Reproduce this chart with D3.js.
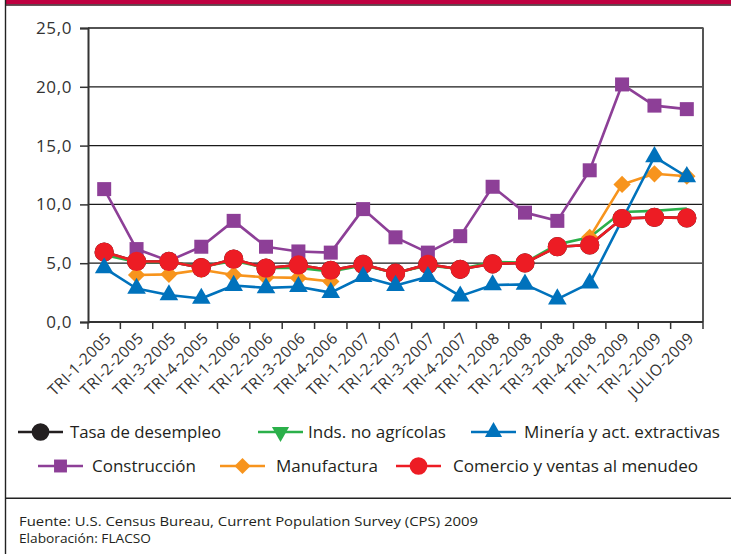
<!DOCTYPE html>
<html>
<head>
<meta charset="utf-8">
<script src="https://cdn.jsdelivr.net/npm/d3@7"></script>
<style>
  html, body { margin: 0; padding: 0; background: #fff; }
  svg { display: block; font-family: "Open Sans", sans-serif; }
</style>
</head>
<body>
<svg id="chart" width="731" height="554"></svg>
<script>
const categories = ["TRI-1-2005","TRI-2-2005","TRI-3-2005","TRI-4-2005","TRI-1-2006","TRI-2-2006","TRI-3-2006","TRI-4-2006","TRI-1-2007","TRI-2-2007","TRI-3-2007","TRI-4-2007","TRI-1-2008","TRI-2-2008","TRI-3-2008","TRI-4-2008","TRI-1-2009","TRI-2-2009","JULIO-2009"];
const tasaDesempleo = [5.95, 5.15, 5.15, 4.62, 5.35, 4.58, 4.85, 4.4, 4.9, 4.15, 4.9, 4.48, 4.95, 5.02, 6.4, 6.55, 8.8, 8.9, 8.85];
const indsNoAgricolas = [5.7, 5.1, 5.1, 4.7, 5.2, 4.6, 4.6, 4.3, 4.8, 4.2, 4.8, 4.5, 5.1, 5.05, 6.6, 7.2, 9.35, 9.45, 9.65];
const mineria = [4.6, 2.85, 2.3, 2.0, 3.1, 2.9, 3.0, 2.5, 3.85, 3.1, 3.85, 2.2, 3.15, 3.2, 1.95, 3.3, null, 14.05, 12.35];
const construccion = [11.3, 6.2, 5.2, 6.4, 8.6, 6.4, 6.0, 5.9, 9.6, 7.2, 5.9, 7.3, 11.5, 9.3, 8.6, 12.9, 20.2, 18.4, 18.1];
const manufactura = [null, 4.0, 4.05, 4.45, 4.0, 3.8, 3.75, 3.45, null, null, null, null, null, null, null, 7.2, 11.7, 12.6, 12.4];
const comercio = [5.95, 5.15, 5.15, 4.62, 5.35, 4.58, 4.85, 4.4, 4.9, 4.15, 4.9, 4.48, 4.95, 5.02, 6.4, 6.55, 8.8, 8.9, 8.85];
const yTicks = [0, 5, 10, 15, 20, 25];
const legendRow1 = ["Tasa de desempleo", "Inds. no agrícolas", "Minería y act. extractivas"];
const legendRow2 = ["Construcción", "Manufactura", "Comercio y ventas al menudeo"];
const footLines = ["Fuente: U.S. Census Bureau, Current Population Survey (CPS) 2009", "Elaboración: FLACSO"];

const svg = d3.select("#chart");
const W = 731, H = 554;
const L = 88, R = 703, T = 28, B = 322;

// frame
svg.append("rect").attr("x", 6).attr("y", 0).attr("width", W - 6).attr("height", 4.3).attr("fill", "#BF0040");
svg.append("line").attr("x1", 6).attr("x2", W).attr("y1", 5).attr("y2", 5).attr("stroke", "#3a1a22").attr("stroke-width", 1.4);
svg.append("line").attr("x1", 5.5).attr("x2", 5.5).attr("y1", 0).attr("y2", H).attr("stroke", "#222").attr("stroke-width", 1.4);
svg.append("line").attr("x1", 5).attr("x2", W).attr("y1", 498.3).attr("y2", 498.3).attr("stroke", "#222").attr("stroke-width", 1.4);

const x = d3.scaleBand().domain(categories).range([L, R]).paddingInner(0).paddingOuter(0);
const cx = d => x(d) + x.bandwidth() / 2;
const y = d3.scaleLinear().domain([0, 25]).range([B, T]);

// gridlines
svg.append("g").selectAll("line").data(yTicks.filter(v => v > 0)).join("line")
  .attr("x1", L).attr("x2", R).attr("y1", d => y(d)).attr("y2", d => y(d))
  .attr("stroke", "#1a1a1a").attr("stroke-width", 1.3);

// right border
svg.append("line").attr("x1", R).attr("x2", R).attr("y1", T - 0.6).attr("y2", B)
  .attr("stroke", "#555").attr("stroke-width", 2);

// y axis
const yAxis = d3.axisLeft(y).tickValues(yTicks).tickSize(8).tickPadding(8)
  .tickFormat(d => d.toFixed(1).replace(".", ","));
const gy = svg.append("g").attr("transform", `translate(${L},0)`).call(yAxis);
gy.select(".domain").attr("stroke", "#333").attr("stroke-width", 2);
gy.selectAll(".tick line").attr("stroke", "#333").attr("stroke-width", 1.5);
gy.selectAll(".tick text").attr("fill", "#333").style("font-size", "17px")
  .style("letter-spacing", "0.6px").style("font-family", "Open Sans");

// x axis
const xAxis = d3.axisBottom(x).tickSize(0).tickFormat(d => d);
const gx = svg.append("g").attr("transform", `translate(0,${B})`).call(xAxis);
gx.select(".domain").attr("stroke", "#333").attr("stroke-width", 2).attr("d", `M${L},0H${R}`);
gx.selectAll(".tick text")
  .attr("text-anchor", "end")
  .attr("transform", "translate(8,17) rotate(-45)")
  .attr("x", 0).attr("y", 0).attr("dy", 0)
  .attr("fill", "#333").style("font-size", "15.5px").style("letter-spacing", "0.5px")
  .style("font-family", "Open Sans");
// boundary ticks
const boundaries = categories.map(c => x(c)).concat([x(categories[categories.length - 1]) + x.bandwidth()]);
svg.append("g").selectAll("line").data(boundaries).join("line")
  .attr("x1", d => d).attr("x2", d => d).attr("y1", B).attr("y2", B + 7)
  .attr("stroke", "#333").attr("stroke-width", 1.5);

// series drawing helpers
const lineGen = d3.line().defined(d => d.v != null).x(d => cx(d.c)).y(d => y(d.v));
function toPts(arr) { return arr.map((v, i) => ({ c: categories[i], v })); }
function drawLine(arr, color, connectGaps) {
  let pts = toPts(arr);
  if (connectGaps) pts = pts.filter(p => p.v != null);
  svg.append("path").datum(pts).attr("d", lineGen).attr("fill", "none")
    .attr("stroke", color).attr("stroke-width", 2.6).attr("stroke-linejoin", "round");
}
const shapes = {
  circle: { type: d3.symbolCircle, size: 290, rot: 0 },
  square: { type: d3.symbolSquare, size: 196, rot: 0 },
  diamond: { type: d3.symbolSquare, size: 150, rot: 45 },
  triUp: { type: d3.symbolTriangle, size: 150, rot: 0 },
  triDown: { type: d3.symbolTriangle, size: 150, rot: 180 }
};
function drawMarkers(arr, color, shape) {
  const s = shapes[shape];
  svg.append("g").selectAll("path").data(toPts(arr).filter(p => p.v != null)).join("path")
    .attr("d", d3.symbol().type(s.type).size(s.size))
    .attr("transform", d => `translate(${cx(d.c)},${y(d.v)}) rotate(${s.rot})`)
    .attr("fill", color);
}

const C = { black: "#231F20", green: "#2BB04A", blue: "#0072BC", purple: "#8D3F97", orange: "#F7941D", red: "#ED1C24" };

drawLine(tasaDesempleo, C.black, false);
drawMarkers(tasaDesempleo, C.black, "circle");
drawLine(indsNoAgricolas, C.green, false);
drawLine(construccion, C.purple, false);
drawMarkers(construccion, C.purple, "square");
drawLine(manufactura, C.orange, false);
drawMarkers(manufactura, C.orange, "diamond");
drawLine(mineria, C.blue, true);
drawLine(comercio, C.red, false);
drawMarkers(comercio, C.red, "circle");
drawMarkers(mineria, C.blue, "triUp");

// legend
const legendItems = [
  { label: legendRow1[0], color: C.black, shape: "circle", x0: 18, tx: 70, ty: 432, w: 151 },
  { label: legendRow1[1], color: C.green, shape: "triDown", x0: 258, tx: 308, ty: 432, w: 138 },
  { label: legendRow1[2], color: C.blue, shape: "triUp", x0: 471, tx: 524, ty: 432, w: 196 },
  { label: legendRow2[0], color: C.purple, shape: "square", x0: 38, tx: 92, ty: 466, w: 104 },
  { label: legendRow2[1], color: C.orange, shape: "diamond", x0: 220, tx: 276, ty: 466, w: 102 },
  { label: legendRow2[2], color: C.red, shape: "circle", x0: 396, tx: 453, ty: 466, w: 245 }
];
const lg = svg.append("g").selectAll("g").data(legendItems).join("g");
lg.append("line").attr("x1", d => d.x0).attr("x2", d => d.x0 + 45)
  .attr("y1", d => d.ty).attr("y2", d => d.ty).attr("stroke", d => d.color).attr("stroke-width", 2.6);
lg.append("path")
  .attr("d", d => d3.symbol().type(shapes[d.shape].type).size(shapes[d.shape].size * 0.85)())
  .attr("transform", d => `translate(${d.x0 + 22.5},${d.ty}) rotate(${shapes[d.shape].rot})`)
  .attr("fill", d => d.color);
lg.append("text").attr("x", d => d.tx).attr("y", d => d.ty + 6)
  .attr("textLength", d => d.w).attr("lengthAdjust", "spacingAndGlyphs")
  .style("font-size", "17px").attr("fill", "#231F20").text(d => d.label);

// footnote
svg.append("g").selectAll("text").data(footLines).join("text")
  .attr("x", 19).attr("y", (d, i) => 526 + i * 17)
  .attr("textLength", (d, i) => i === 0 ? 459 : 132).attr("lengthAdjust", "spacingAndGlyphs")
  .style("font-size", "13.5px").attr("fill", "#231F20").text(d => d);
</script>
</body>
</html>
